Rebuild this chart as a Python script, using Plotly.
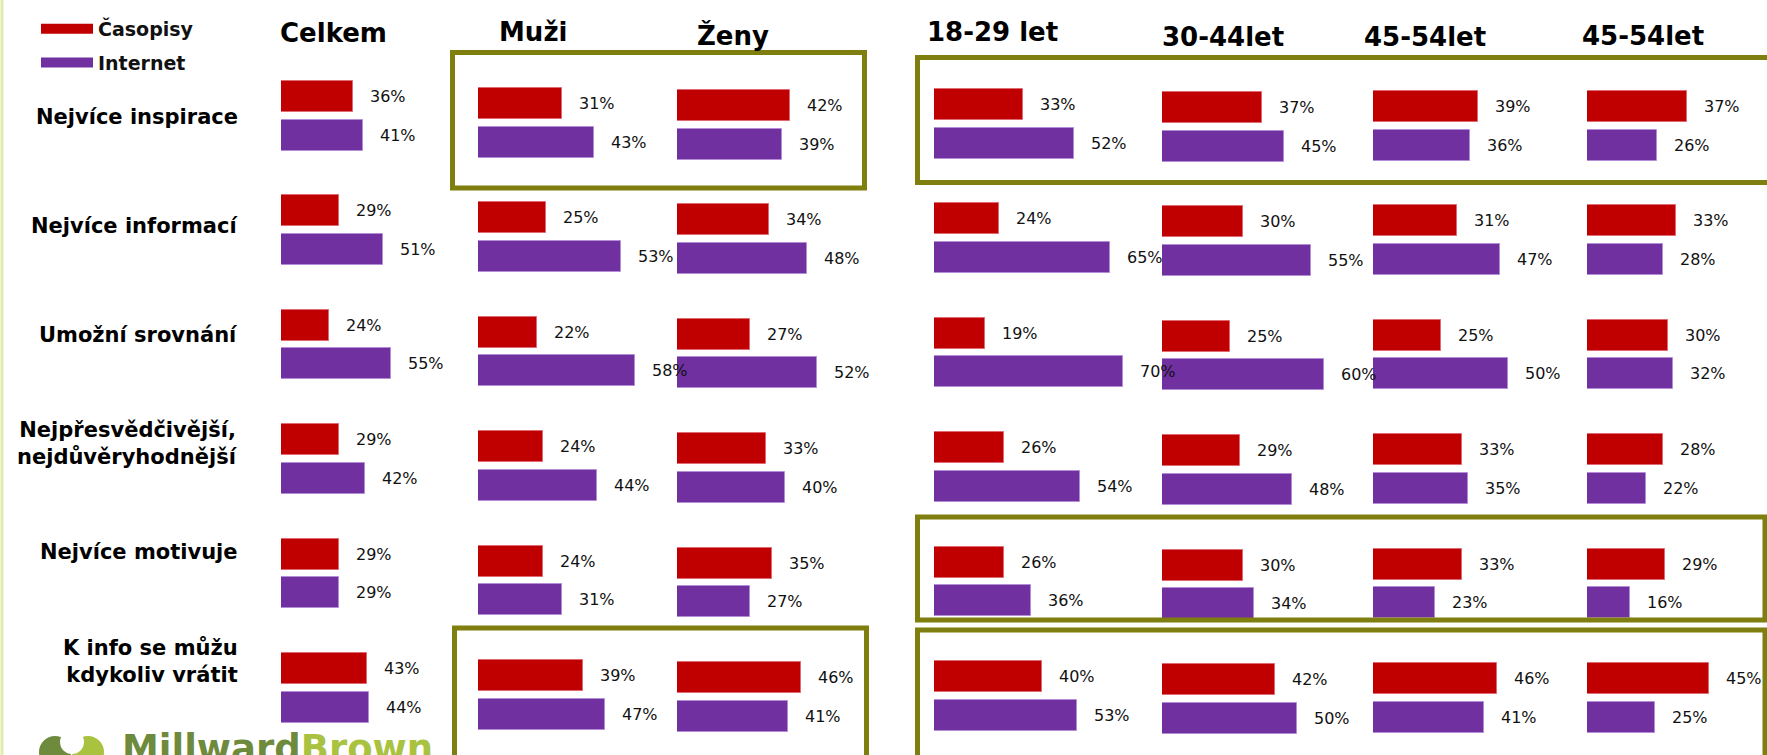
import plotly.graph_objects as go

W, H = 1767, 755

columns = ["Celkem", "Muži", "Ženy", "18-29 let", "30-44let", "45-54let", "45-54let"]
rows = ["Nejvíce inspirace", "Nejvíce informací", "Umožní srovnání",
        "Nejpřesvědčivější,<br>nejdůvěryhodnější", "Nejvíce motivuje",
        "K info se můžu<br>kdykoliv vrátit"]

# values per column, rows top to bottom
casopisy = [
    [36, 29, 24, 29, 29, 43],
    [31, 25, 22, 24, 24, 39],
    [42, 34, 27, 33, 35, 46],
    [33, 24, 19, 26, 26, 40],
    [37, 30, 25, 29, 30, 42],
    [39, 31, 25, 33, 33, 46],
    [37, 33, 30, 28, 29, 45],
]
internet = [
    [41, 51, 55, 42, 29, 44],
    [43, 53, 58, 44, 31, 47],
    [39, 48, 52, 40, 27, 41],
    [52, 65, 70, 54, 36, 53],
    [45, 55, 60, 48, 34, 50],
    [36, 47, 50, 35, 23, 41],
    [26, 28, 32, 22, 16, 25],
]

RED = "#C00000"
PURPLE = "#7030A0"
OLIVE = "#7F7F0F"
FONT = "DejaVu Sans"

# layout in pixels
col_x0 = [281, 478, 677, 934, 1162, 1373, 1587]
px_per_pct = [2.0, 2.7, 2.7, 2.7, 2.7, 2.7, 2.7]
col_dy = [0, 7, 9, 8, 11, 10, 10]
title_pos = [(333, 33), (533, 32), (733, 36), (992, 32), (1223, 37), (1425, 37), (1643, 36)]
ROW0, PITCH = 115.75, 114.4
HALF = 19.25 / PITCH
BAR_W = 31 / PITCH


def px(x):
    return x / W


def py(y):
    return 1 - y / H


fig = go.Figure()
annotations = []

for c, name in enumerate(columns):
    ax = "x" if c == 0 else f"x{c + 1}"
    x0 = col_x0[c]
    x1 = min(W, x0 + 300)
    fig.layout[("xaxis" if c == 0 else f"xaxis{c + 1}")] = dict(
        domain=[px(x0), px(x1)], range=[0, (x1 - x0) / px_per_pct[c]],
        visible=False, fixedrange=True, anchor="y")
    off = col_dy[c] / PITCH
    for vals, col, sign, line in ((casopisy[c], RED, -1, "#E06A74"),
                                  (internet[c], PURPLE, 1, "#B38ED6")):
        ys = [r + off + sign * HALF for r in range(len(rows))]
        fig.add_trace(go.Bar(
            x=vals, y=ys, orientation="h", width=BAR_W, xaxis=ax, yaxis="y",
            marker=dict(color=col, line=dict(color=line, width=1)),
            showlegend=False, hoverinfo="skip"))
        for v, yy in zip(vals, ys):
            annotations.append(dict(
                x=v, y=yy, xref=ax, yref="y", text=f"{v}%", showarrow=False,
                xanchor="left", yanchor="middle", xshift=15,
                font=dict(family=FONT, size=16, color="#111")))
    tx, ty = title_pos[c]
    annotations.append(dict(
        x=px(tx), y=py(ty), xref="paper", yref="paper", text=f"<b>{name}</b>",
        showarrow=False, xanchor="center", yanchor="middle",
        font=dict(family=FONT, size=26, color="#000")))

for i, lab in enumerate(rows):
    annotations.append(dict(
        x=px(240), y=py(117 + 108.8 * i), xref="paper", yref="paper",
        text=f"<b>{lab}</b>", showarrow=False, xanchor="right", yanchor="middle",
        align="right", font=dict(family=FONT, size=21, color="#000")))

# legend entries
for name, col in (("Časopisy", RED), ("Internet", PURPLE)):
    fig.add_trace(go.Scatter(
        x=[None], y=[None], mode="lines", name=f"<b>{name}</b>",
        line=dict(color=col, width=10), legendgroup=name, hoverinfo="skip"))

# logo
annotations.append(dict(
    x=px(120), y=py(725), xref="paper", yref="paper", showarrow=False,
    xanchor="left", yanchor="top",
    text="<b><span style='color:#6E8B3D'>Millward</span>"
         "<span style='color:#A9C23F'>Brown</span></b>",
    font=dict(family=FONT, size=37)))

shapes = []
# green highlight boxes
for x0, y0, x1, y1 in ((452.5, 52.5, 864.5, 188), (917.5, 57.5, 1790, 182.5),
                       (917.5, 517, 1765, 620), (917.5, 630, 1765, 790),
                       (454.5, 628, 866.5, 790)):
    shapes.append(dict(type="rect", xref="paper", yref="paper",
                       x0=px(x0), x1=px(x1), y0=py(y1), y1=py(y0),
                       line=dict(color=OLIVE, width=5)))
# left edge rule
shapes.append(dict(type="line", xref="paper", yref="paper", x0=px(2), x1=px(2),
                   y0=0, y1=1, line=dict(color="#E4EAAE", width=3)))
# logo mark
for cx, cy, r, col in ((55, 752, 16, "#6E8B3D"), (88, 752, 16, "#A9C23F"),
                       (72, 742, 12, "#FFFFFF")):
    shapes.append(dict(type="circle", xref="paper", yref="paper",
                       x0=px(cx - r), x1=px(cx + r), y0=py(cy + r), y1=py(cy - r),
                       fillcolor=col, line=dict(width=0)))

fig.update_layout(
    width=W, height=H, margin=dict(l=0, r=0, t=0, b=0, pad=0),
    paper_bgcolor="white", plot_bgcolor="rgba(0,0,0,0)",
    barmode="overlay", bargap=0,
    yaxis=dict(domain=[0, 1], range=[(H - ROW0) / PITCH, -ROW0 / PITCH],
               visible=False, fixedrange=True),
    annotations=annotations, shapes=shapes,
    legend=dict(x=px(36), y=py(10), xanchor="left", yanchor="top",
                font=dict(family=FONT, size=19, color="#111"),
                itemwidth=52, traceorder="grouped", tracegroupgap=6,
                bgcolor="rgba(0,0,0,0)"),
    showlegend=True,
)

fig.write_html("out.html", config={"displayModeBar": False},
               post_script="document.body.style.margin = '0px';")
